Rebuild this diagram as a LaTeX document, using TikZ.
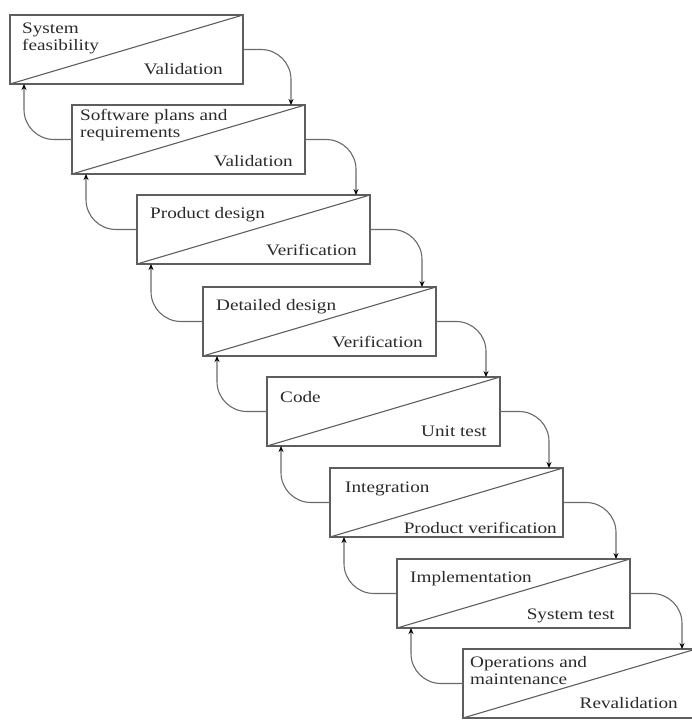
\documentclass[tikz,border=0pt]{standalone}
\usepackage{fontspec}
\setmainfont[FakeStretch=1.2]{Liberation Serif}
\usetikzlibrary{arrows.meta}
\definecolor{boxgray}{HTML}{5E5E5E}
\definecolor{linegray}{HTML}{6A6A6A}
\definecolor{textgray}{HTML}{2A2A2A}
\begin{document}
\begin{tikzpicture}[x=1pt,y=-1pt,
  phase/.style={draw=boxgray, line width=1.3pt, minimum width=233pt,
    minimum height=69pt, anchor=north west, inner sep=0pt, outer sep=0pt},
  diag/.style={draw=boxgray, line width=1.1pt},
  lbl/.style={font=\fontsize{16}{17}\selectfont, text=textgray,
    inner sep=0pt, align=left},
  flow/.style={draw=linegray, line width=1.1pt, rounded corners=30pt,
    -{Stealth[length=6pt,width=5pt,black]}},
]
\useasboundingbox (0,0) rectangle (691,720);

% phase boxes
\node[phase] (b1) at (10,15)   {};
\node[phase] (b2) at (72,105)  {};
\node[phase] (b3) at (137,195) {};
\node[phase] (b4) at (203,287) {};
\node[phase] (b5) at (267,377) {};
\node[phase] (b6) at (330,468) {};
\node[phase] (b7) at (397,559) {};
\node[phase] (b8) at (463,649) {};

% diagonal splitting each box into activity and check
\foreach \b in {b1,b2,b3,b4,b5,b6,b7,b8}
  \draw[diag] (\b.south west) -- (\b.north east);

% activity labels (two-line ones are placed by their last baseline)
\node[lbl, anchor=base west] (a1) at (22,50)  {System\\feasibility};
\node[lbl, anchor=base west] (a2) at (80,137) {Software plans and\\requirements};
\node[lbl, anchor=base west] (a3) at (150,218) {Product design};
\node[lbl, anchor=base west] (a4) at (216,310) {Detailed design};
\node[lbl, anchor=base west] (a5) at (280,402) {Code};
\node[lbl, anchor=base west] (a6) at (345,492) {Integration};
\node[lbl, anchor=base west] (a7) at (410,582) {Implementation};
\node[lbl, anchor=base west] (a8) at (470,684) {Operations and\\maintenance};

% check labels
\node[lbl, anchor=base east] (c1) at (223,74)  {Validation};
\node[lbl, anchor=base east] (c2) at (293,166) {Validation};
\node[lbl, anchor=base east] (c3) at (357,255) {Verification};
\node[lbl, anchor=base east] (c4) at (423,347) {Verification};
\node[lbl, anchor=base east] (c5) at (487,436) {Unit test};
\node[lbl, anchor=base east] (c6) at (557,533) {Product verification};
\node[lbl, anchor=base east] (c7) at (615,619) {System test};
\node[lbl, anchor=base east] (c8) at (678,708) {Revalidation};

% forward and feedback connectors
\foreach \p/\n in {b1/b2,b2/b3,b3/b4,b4/b5,b5/b6,b6/b7,b7/b8}{
  \coordinate (in-\n) at ([xshift=-14pt]\n.north east);
  \coordinate (back-\p) at ([xshift=14pt]\p.south west);
  \draw[flow] (\p.east) -| (in-\n);
  \draw[flow] (\n.west) -| (back-\p);
}
\end{tikzpicture}
\end{document}
